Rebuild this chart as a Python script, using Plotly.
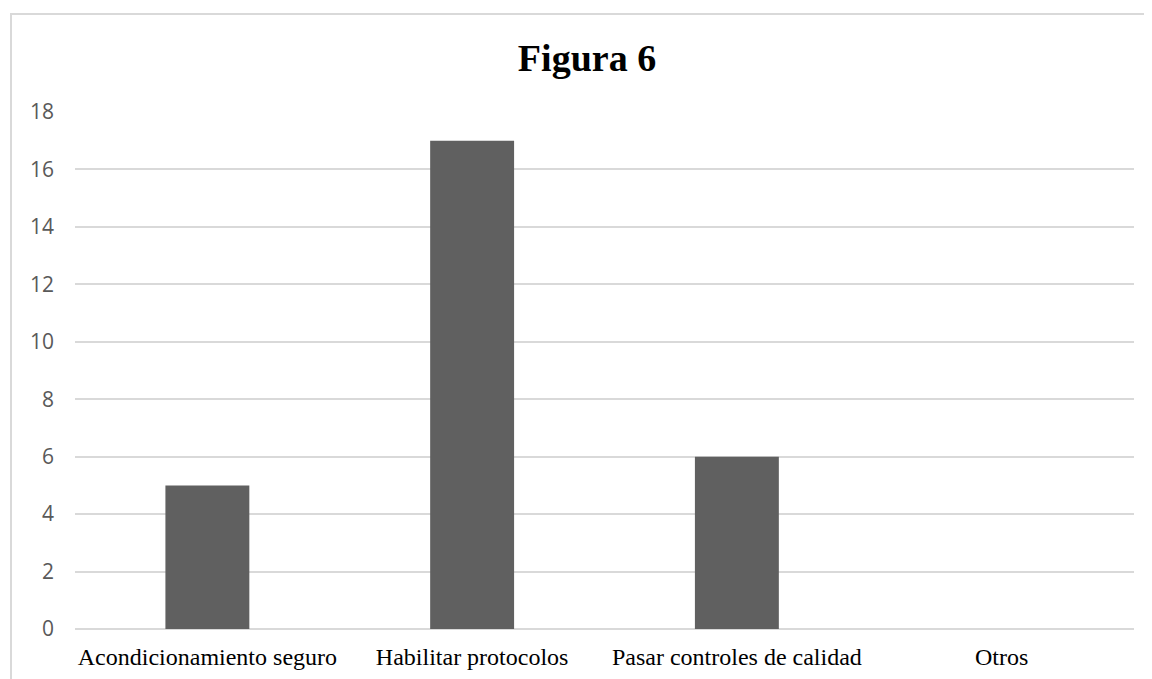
import plotly.graph_objects as go

categories = ["Acondicionamiento seguro", "Habilitar protocolos", "Pasar controles de calidad", "Otros"]
values = [5, 17, 6, 0]
y_ticks = [0, 2, 4, 6, 8, 10, 12, 14, 16, 18]

# page body has an 8px margin; work in figure coordinates = screen - 8
OFF = 8
W, H = 1152 - OFF, 679 - OFF
L, R, T, B = 75 - OFF, 18, 112 - OFF, 50
pw, ph = W - L - R, H - T - B


def px_x(sx):
    return (sx - OFF - L) / pw


def px_y(sy):
    return (H - B - (sy - OFF)) / ph


fig = go.Figure(go.Bar(x=categories, y=values, marker=dict(color="#606060", line=dict(width=0)),
                       hoverinfo="x+y"))

fig.update_layout(
    width=W, height=H,
    margin=dict(l=L, r=R, t=T, b=B, autoexpand=False),
    paper_bgcolor="white", plot_bgcolor="white",
    bargap=0.683,
    showlegend=False,
    title=dict(text="<b>Figura 6</b>", x=(587 - OFF) / W, xanchor="center",
               y=1 - (58 - OFF) / H, yanchor="middle", yref="container",
               font=dict(family="Liberation Serif", size=38, color="black")),
    xaxis=dict(showgrid=False, showline=False, zeroline=False, ticks="", automargin=False,
               tickfont=dict(family="Liberation Serif", size=24, color="black"),
               ticklabelstandoff=11),
    yaxis=dict(range=[0, 18], tickvals=y_ticks, showgrid=True, gridcolor="#d9d9d9", gridwidth=1.5,
               zeroline=True, zerolinecolor="#d9d9d9", zerolinewidth=1.5, showline=False, ticks="",
               automargin=False,
               tickfont=dict(family="Open Sans", size=21, color="#595959"),
               ticklabelstandoff=20),
)

# outer chart border
fig.add_shape(type="rect", xref="paper", yref="paper",
              x0=px_x(11), x1=px_x(1150),
              y0=px_y(720), y1=px_y(14),
              line=dict(color="#d9d9d9", width=2), fillcolor="rgba(0,0,0,0)", layer="below")

fig.write_html("out.html")
